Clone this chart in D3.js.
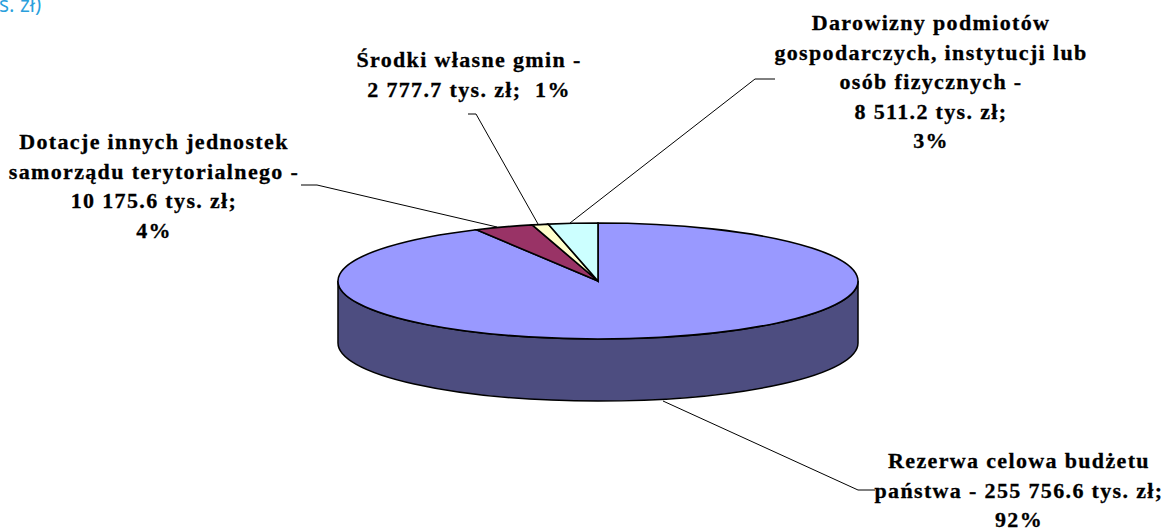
<!DOCTYPE html>
<html><head><meta charset="utf-8">
<script src="https://cdn.jsdelivr.net/npm/d3@7/dist/d3.min.js"></script>
<style>html,body{margin:0;padding:0;background:#fff}svg{display:block}
.l{font-family:"Liberation Serif",serif;font-weight:bold;font-size:22px;fill:#000;stroke:#000;stroke-width:.3px;letter-spacing:1.35px;text-anchor:middle}
</style></head><body><svg width="1168" height="528"></svg>
<script>
const categories=["Rezerwa celowa budżetu państwa","Dotacje innych jednostek samorządu terytorialnego","Środki własne gmin","Darowizny podmiotów gospodarczych, instytucji lub osób fizycznych"];
const values=[255756.6,10175.6,2777.7,8511.2];
const colors=["#9999ff","#993366","#ffffcc","#ccffff"];
const labelLines=[
 ["Rezerwa celowa budżetu","państwa - 255 756.6 tys. zł;","92%"],
 ["Dotacje innych jednostek","samorządu terytorialnego -","10 175.6 tys. zł;","4%"],
 ["Środki własne gmin -","2 777.7 tys. zł;  1%"],
 ["Darowizny podmiotów","gospodarczych, instytucji lub","osób fizycznych -","8 511.2 tys. zł;","3%"]];
const labelCentre=[[1019,468],[154,149],[469,67],[931,30]];
const leaders=[[[875,490],[858,490],[663,401]],[[301,185],[317,185],[497,227]],[[468,114],[476,114],[538,224]],[[775,79],[755,79],[570,223]]];

const svg=d3.select("svg");
svg.append("text").attr("x",-1).attr("y",12).attr("font-family","Open Sans").attr("font-size",21).attr("fill","#2a9fdc").text("s. zł)");
const cx=598,cy=281,rx=260,ry=58,depth=62;
const arcs=d3.pie().sort(null)(values);
const arc=d3.arc().innerRadius(0).outerRadius(rx);
const line=d3.line();
svg.append("g").selectAll("path").data(leaders).join("path").attr("d",line).attr("fill","none").attr("stroke","#000").attr("stroke-width",1);
svg.append("path").attr("fill","#4d4d80").attr("stroke","#000").attr("stroke-width",1.5)
 .attr("d",`M${cx-rx},${cy}A${rx},${ry} 0 0 0 ${cx+rx},${cy}V${cy+depth}A${rx},${ry} 0 0 1 ${cx-rx},${cy+depth}Z`);
svg.append("g").attr("transform",`translate(${cx},${cy}) scale(1,${ry/rx})`)
 .selectAll("path").data(arcs).join("path").attr("d",arc)
 .attr("fill",(d,i)=>colors[i]).attr("stroke","#000").attr("stroke-width",1.6).attr("vector-effect","non-scaling-stroke");
labelLines.forEach((ls,i)=>{
 const t=svg.append("text").attr("class","l");
 ls.forEach((s,j)=>t.append("tspan").attr("x",labelCentre[i][0]).attr("y",labelCentre[i][1]+j*29.5).attr("xml:space","preserve").style("white-space","pre").text(s));
});
</script></body></html>
